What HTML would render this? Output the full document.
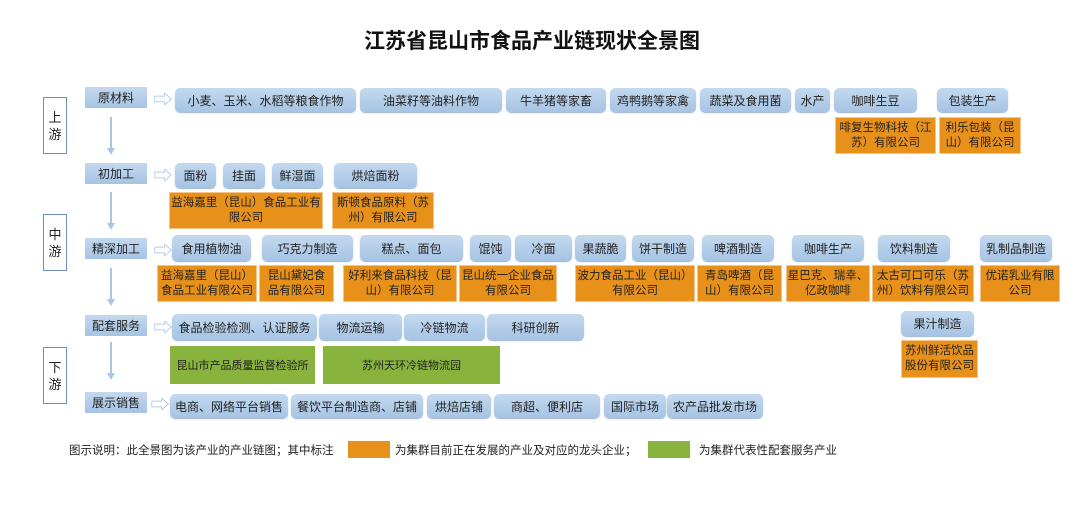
<!DOCTYPE html>
<html><head><meta charset="utf-8"><style>
body{margin:0;width:1080px;height:528px;background:#fff;position:relative;overflow:hidden;font-family:"Liberation Sans","Noto Sans CJK SC",sans-serif;}
div{position:absolute;box-sizing:border-box;display:flex;align-items:center;justify-content:center;text-align:center;color:#222;}
.b{background:linear-gradient(#c4d9ef,#a6c4e4);border-radius:5px;font-size:12px;box-shadow:0 1px 1px #9bb4d0;}
.c{background:linear-gradient(#c4d9ef,#a6c4e4);font-size:12px;}
.o{background:#e8911a;font-size:11.5px;line-height:15px;border:1px solid #f4c48a;}
.g{background:#88b43e;font-size:11px;}
.s{border:1.5px solid #6d8fbf;font-size:13px;line-height:17px;background:#fff;}
.ar{color:#9dbde0;font-size:19px;}
.v{width:2px;background:#a9c6e6;}
.vh{width:0;height:0;border-left:4px solid transparent;border-right:4px solid transparent;border-top:7px solid #a9c6e6;}
</style></head><body>
<div style="left:0;width:1064px;top:26px;height:28px;font-size:21px;font-weight:bold;color:#111">江苏省昆山市食品产业链现状全景图</div>

<div class="s" style="left:43px;top:97px;width:24px;height:57px">上<br>游</div>
<div class="s" style="left:43px;top:214px;width:24px;height:57px">中<br>游</div>
<div class="s" style="left:43px;top:347px;width:24px;height:57px">下<br>游</div>

<div class="c" style="left:85px;top:87px;width:62px;height:21px">原材料</div>
<div class="c" style="left:85px;top:163px;width:62px;height:21px">初加工</div>
<div class="c" style="left:85px;top:238px;width:62px;height:21px">精深加工</div>
<div class="c" style="left:85px;top:315px;width:62px;height:21px">配套服务</div>
<div class="c" style="left:85px;top:392px;width:62px;height:21px">展示销售</div>

<div class="ar" style="left:153px;top:88px;width:20px;height:20px">⇨</div>
<div class="ar" style="left:153px;top:164px;width:20px;height:20px">⇨</div>
<div class="ar" style="left:153px;top:239px;width:20px;height:20px">⇨</div>
<div class="ar" style="left:153px;top:316px;width:20px;height:20px">⇨</div>
<div class="ar" style="left:150px;top:393px;width:20px;height:20px">⇨</div>

<div class="v" style="left:110px;top:117px;height:32px"></div><div class="vh" style="left:107px;top:148px"></div>
<div class="v" style="left:110px;top:192px;height:32px"></div><div class="vh" style="left:107px;top:223px"></div>
<div class="v" style="left:110px;top:268px;height:32px"></div><div class="vh" style="left:107px;top:299px"></div>
<div class="v" style="left:110px;top:342px;height:32px"></div><div class="vh" style="left:107px;top:373px"></div>

<div class="b" style="left:175px;top:88px;width:181px;height:24px">小麦、玉米、水稻等粮食作物</div>
<div class="b" style="left:360px;top:88px;width:142px;height:24px">油菜籽等油料作物</div>
<div class="b" style="left:506px;top:88px;width:100px;height:24px">牛羊猪等家畜</div>
<div class="b" style="left:610px;top:88px;width:86px;height:24px">鸡鸭鹅等家禽</div>
<div class="b" style="left:700px;top:88px;width:91px;height:24px">蔬菜及食用菌</div>
<div class="b" style="left:795px;top:88px;width:35px;height:24px">水产</div>
<div class="b" style="left:834px;top:88px;width:83px;height:24px">咖啡生豆</div>
<div class="b" style="left:937px;top:88px;width:71px;height:24px">包装生产</div>
<div class="o" style="left:835px;top:117px;width:101px;height:37px">啡复生物科技（江<br>苏）有限公司</div>
<div class="o" style="left:939px;top:117px;width:82px;height:37px">利乐包装（昆<br>山）有限公司</div>

<div class="b" style="left:175px;top:163px;width:41px;height:25px">面粉</div>
<div class="b" style="left:223px;top:163px;width:42px;height:25px">挂面</div>
<div class="b" style="left:272px;top:163px;width:51px;height:25px">鲜湿面</div>
<div class="b" style="left:334px;top:163px;width:83px;height:25px">烘焙面粉</div>
<div class="o" style="left:169px;top:192px;width:154px;height:37px">益海嘉里（昆山）食品工业有<br>限公司</div>
<div class="o" style="left:332px;top:192px;width:102px;height:37px">斯顿食品原料（苏<br>州）有限公司</div>

<div class="b" style="left:172px;top:235px;width:79px;height:26px">食用植物油</div>
<div class="b" style="left:262px;top:235px;width:91px;height:26px">巧克力制造</div>
<div class="b" style="left:360px;top:235px;width:103px;height:26px">糕点、面包</div>
<div class="b" style="left:470px;top:235px;width:41px;height:26px">馄饨</div>
<div class="b" style="left:515px;top:235px;width:57px;height:26px">冷面</div>
<div class="b" style="left:575px;top:235px;width:51px;height:26px">果蔬脆</div>
<div class="b" style="left:632px;top:235px;width:62px;height:26px">饼干制造</div>
<div class="b" style="left:702px;top:235px;width:72px;height:26px">啤酒制造</div>
<div class="b" style="left:792px;top:235px;width:72px;height:26px">咖啡生产</div>
<div class="b" style="left:878px;top:235px;width:72px;height:26px">饮料制造</div>
<div class="b" style="left:980px;top:235px;width:72px;height:26px">乳制品制造</div>
<div class="o" style="left:157px;top:265px;width:100px;height:37px">益海嘉里（昆山）<br>食品工业有限公司</div>
<div class="o" style="left:259px;top:265px;width:75px;height:37px">昆山黛妃食<br>品有限公司</div>
<div class="o" style="left:343px;top:265px;width:114px;height:37px">好利来食品科技（昆<br>山）有限公司</div>
<div class="o" style="left:459px;top:265px;width:98px;height:37px">昆山统一企业食品<br>有限公司</div>
<div class="o" style="left:575px;top:265px;width:120px;height:37px">波力食品工业（昆山）<br>有限公司</div>
<div class="o" style="left:697px;top:265px;width:85px;height:37px">青岛啤酒（昆<br>山）有限公司</div>
<div class="o" style="left:786px;top:265px;width:84px;height:37px">星巴克、瑞幸、<br>亿政咖啡</div>
<div class="o" style="left:872px;top:265px;width:102px;height:37px">太古可口可乐（苏<br>州）饮料有限公司</div>
<div class="o" style="left:980px;top:265px;width:80px;height:37px">优诺乳业有限<br>公司</div>

<div class="b" style="left:172px;top:314px;width:145px;height:26px">食品检验检测、认证服务</div>
<div class="b" style="left:319px;top:314px;width:83px;height:26px">物流运输</div>
<div class="b" style="left:404px;top:314px;width:81px;height:26px">冷链物流</div>
<div class="b" style="left:487px;top:314px;width:97px;height:26px">科研创新</div>
<div class="b" style="left:901px;top:311px;width:73px;height:25px">果汁制造</div>
<div class="o" style="left:901px;top:340px;width:77px;height:38px">苏州鲜活饮品<br>股份有限公司</div>
<div class="g" style="left:170px;top:346px;width:145px;height:38px">昆山市产品质量监督检验所</div>
<div class="g" style="left:323px;top:346px;width:177px;height:38px">苏州天环冷链物流园</div>

<div class="b" style="left:170px;top:394px;width:118px;height:24px">电商、网络平台销售</div>
<div class="b" style="left:291px;top:394px;width:132px;height:24px">餐饮平台制造商、店铺</div>
<div class="b" style="left:427px;top:394px;width:64px;height:24px">烘焙店铺</div>
<div class="b" style="left:494px;top:394px;width:106px;height:24px">商超、便利店</div>
<div class="b" style="left:604px;top:394px;width:62px;height:24px">国际市场</div>
<div class="b" style="left:667px;top:394px;width:96px;height:24px">农产品批发市场</div>

<div style="left:69px;top:442px;height:16px;font-size:11.5px;justify-content:flex-start;white-space:nowrap">图示说明：此全景图为该产业的产业链图；其中标注</div>
<div style="left:348px;top:441px;width:42px;height:17px;background:#e8911a"></div>
<div style="left:395px;top:442px;height:16px;font-size:11.5px;justify-content:flex-start;white-space:nowrap">为集群目前正在发展的产业及对应的龙头企业；</div>
<div style="left:648px;top:441px;width:42px;height:17px;background:#88b43e"></div>
<div style="left:699px;top:442px;height:16px;font-size:11.5px;justify-content:flex-start;white-space:nowrap">为集群代表性配套服务产业</div>
</body></html>
